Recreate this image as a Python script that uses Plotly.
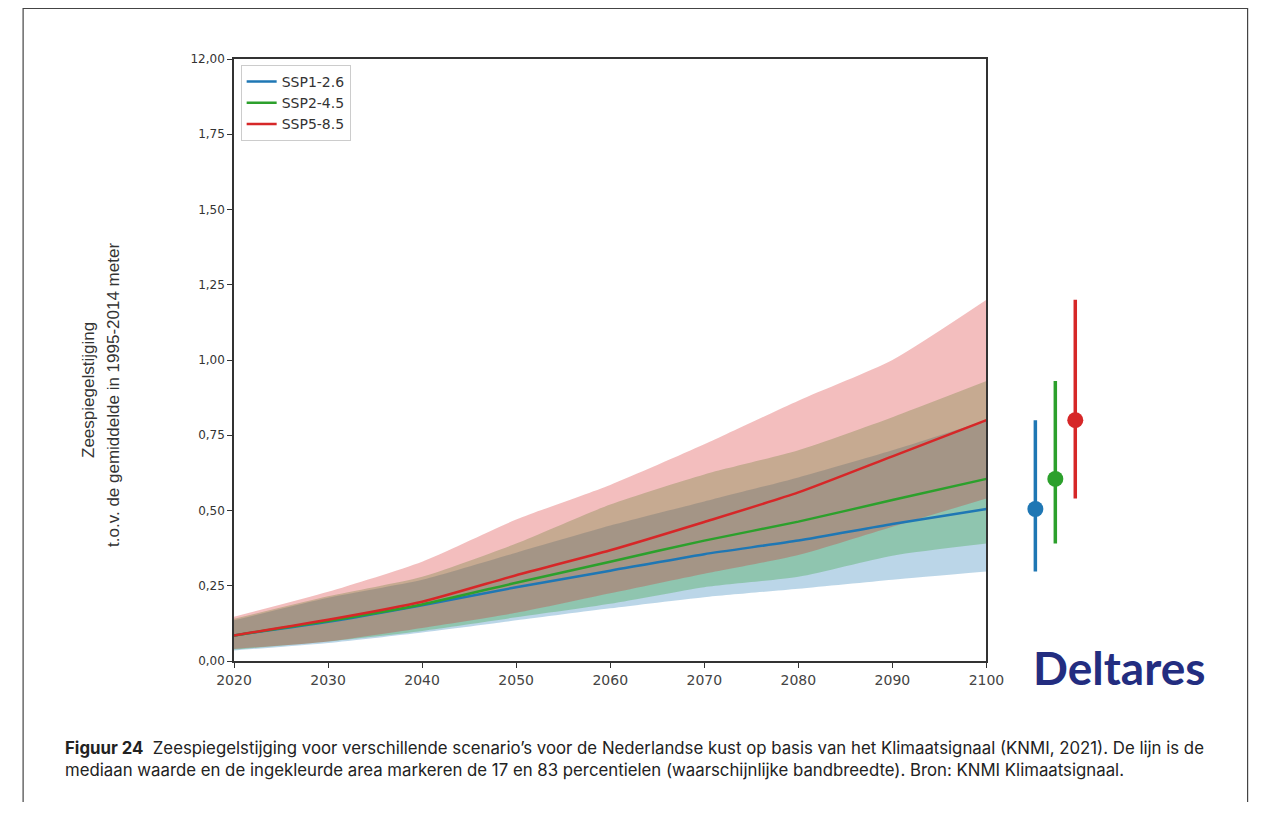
import plotly.graph_objects as go

# jaren en zeespiegelstijging (m) t.o.v. 1995-2014, gelezen uit de figuur
years = [2020, 2030, 2040, 2050, 2060, 2070, 2080, 2090, 2100]

ssp126_med = [0.085, 0.130, 0.185, 0.245, 0.300, 0.355, 0.400, 0.455, 0.505]
ssp126_low = [0.035, 0.060, 0.095, 0.135, 0.175, 0.212, 0.240, 0.270, 0.297]
ssp126_high = [0.135, 0.210, 0.270, 0.360, 0.450, 0.530, 0.610, 0.700, 0.800]

ssp245_med = [0.085, 0.133, 0.188, 0.260, 0.330, 0.400, 0.463, 0.535, 0.605]
ssp245_low = [0.038, 0.065, 0.100, 0.145, 0.190, 0.245, 0.280, 0.350, 0.390]
ssp245_high = [0.140, 0.215, 0.280, 0.390, 0.520, 0.620, 0.700, 0.810, 0.930]

ssp585_med = [0.085, 0.137, 0.197, 0.285, 0.368, 0.462, 0.560, 0.680, 0.800]
ssp585_low = [0.040, 0.065, 0.110, 0.160, 0.225, 0.290, 0.352, 0.446, 0.540]
ssp585_high = [0.147, 0.230, 0.330, 0.470, 0.585, 0.720, 0.865, 1.000, 1.200]

scenarios = ['SSP1-2.6', 'SSP2-4.5', 'SSP5-8.5']
colors = ['#1f77b4', '#2ca02c', '#d62728']
fills = ['rgba(31,119,180,0.3)', 'rgba(44,160,44,0.3)', 'rgba(214,39,40,0.3)']

ytick_vals = [0, 0.25, 0.5, 0.75, 1.0, 1.25, 1.5, 1.75, 2.0]
ytick_text = ['0,00', '0,25', '0,50', '0,75', '1,00', '1,25', '1,50', '1,75', '12,00']
xtick_vals = [2020, 2030, 2040, 2050, 2060, 2070, 2080, 2090, 2100]

series = [
    (ssp126_low, ssp126_med, ssp126_high),
    (ssp245_low, ssp245_med, ssp245_high),
    (ssp585_low, ssp585_med, ssp585_high),
]

fig = go.Figure()

# banden (17-83 percentiel)
for (low, med, high), fc in zip(series, fills):
    fig.add_trace(go.Scatter(x=years, y=low, mode='lines',
                             line=dict(width=0, shape='spline', smoothing=0.6),
                             showlegend=False, hoverinfo='skip'))
    fig.add_trace(go.Scatter(x=years, y=high, mode='lines',
                             line=dict(width=0, shape='spline', smoothing=0.6),
                             fill='tonexty', fillcolor=fc,
                             showlegend=False, hoverinfo='skip'))

# mediaan lijnen
for (low, med, high), name, col in zip(series, scenarios, colors):
    fig.add_trace(go.Scatter(x=years, y=med, mode='lines', name=name,
                             line=dict(color=col, width=2.5, shape='spline', smoothing=0.6)))

# 2100 waarden als punt met balk rechts van de grafiek
for i, ((low, med, high), col) in enumerate(zip(series, colors)):
    fig.add_trace(go.Scatter(
        x=[i], y=[med[-1]], mode='markers', xaxis='x2', yaxis='y',
        marker=dict(color=col, size=16),
        error_y=dict(type='data', symmetric=False,
                     array=[high[-1] - med[-1]], arrayminus=[med[-1] - low[-1]],
                     color=col, thickness=3.5, width=0),
        showlegend=False))

# pagina-marge 8px; horizontaal komt de foto iets smaller uit, daarvoor corrigeren
OFF = 8
S = 0.9845
SHIFT = 3
W, H = 1262, 794
L, R, T = round(233 / S) - OFF - SHIFT, 8, 59 - OFF
B = H - (661 - OFF)
pw = W - L - R
ph = H - T - B
main_right = (987 - 233) / S / pw


def px(x):
    return (x / S - OFF - SHIFT - L) / pw


def py(y):
    return (H - B - (y - OFF)) / ph


# x2: index 0 valt op 1036 px, 20 px per stap
step = 20 / S
x2_start = -(1036 - 987) / S / step
x2_end = x2_start + pw * (1 - main_right) / step

fig.update_layout(
    width=W, height=H, autosize=False,
    margin=dict(l=L, r=R, t=T, b=B),
    paper_bgcolor='white', plot_bgcolor='white',
    font=dict(family='DejaVu Sans', size=13, color='#333'),
    xaxis=dict(domain=[0, main_right], range=[2020, 2100],
               tickvals=xtick_vals, ticks='outside', ticklen=5, tickcolor='#333',
               tickfont=dict(size=14, color='#444'),
               showline=True, linecolor='#333', linewidth=1.5, mirror=True,
               showgrid=False, zeroline=False),
    xaxis2=dict(domain=[main_right, 1], range=[x2_start, x2_end],
                anchor='y', visible=False, showgrid=False),
    yaxis=dict(range=[0, 2.0], tickvals=ytick_vals, ticktext=ytick_text,
               ticks='outside', ticklen=5, tickcolor='#333',
               tickfont=dict(size=12, color='#333'),
               showline=True, linecolor='#333', linewidth=1.5, mirror=True,
               showgrid=False, zeroline=False, anchor='x'),
    legend=dict(x=px(240), y=py(65), xanchor='left', yanchor='top',
                traceorder='normal',
                bgcolor='rgba(255,255,255,0.8)', bordercolor='#ccc', borderwidth=1,
                font=dict(family='DejaVu Sans', size=14, color='#333'),
                tracegroupgap=2),
    showlegend=True,
)

# y-as titel (twee regels)
fig.add_annotation(
    x=px(87), y=py(390), xref='paper', yref='paper', xanchor='center', yanchor='middle',
    text='Zeespiegelstijging', textangle=-90, showarrow=False,
    font=dict(family='Liberation Sans', size=17, color='#333'))
fig.add_annotation(
    x=px(112), y=py(395), xref='paper', yref='paper', xanchor='center', yanchor='middle',
    text='t.o.v. de gemiddelde in 1995-2014 meter', textangle=-90, showarrow=False,
    font=dict(family='Liberation Sans', size=17, color='#333'))

# Deltares
fig.add_annotation(
    x=px(1120), y=py(667), xref='paper', yref='paper', xanchor='center', yanchor='middle',
    text='<b>Deltares</b>', showarrow=False,
    font=dict(family='Lato', size=46, color='#232d80'))

# bijschrift
fig.add_annotation(
    x=px(62), y=py(759), xref='paper', yref='paper', xanchor='left', yanchor='middle',
    align='left', showarrow=False,
    text=('<b>Figuur 24</b>  Zeespiegelstijging voor verschillende scenario\u2019s voor de '
          'Nederlandse kust op basis van het Klimaatsignaal (KNMI, 2021). De lijn is de<br>'
          'mediaan waarde en de ingekleurde area markeren de 17 en 83 percentielen '
          '(waarschijnlijke bandbreedte). Bron: KNMI Klimaatsignaal.'),
    font=dict(family='Inter', size=16.8, color='#222'))

# kader om de figuur
fig.add_shape(type='rect', xref='paper', yref='paper',
              x0=px(22), x1=px(1249), y0=py(840), y1=py(8.5),
              line=dict(color='#444', width=1.2), layer='below')

fig.write_html('out.html')
